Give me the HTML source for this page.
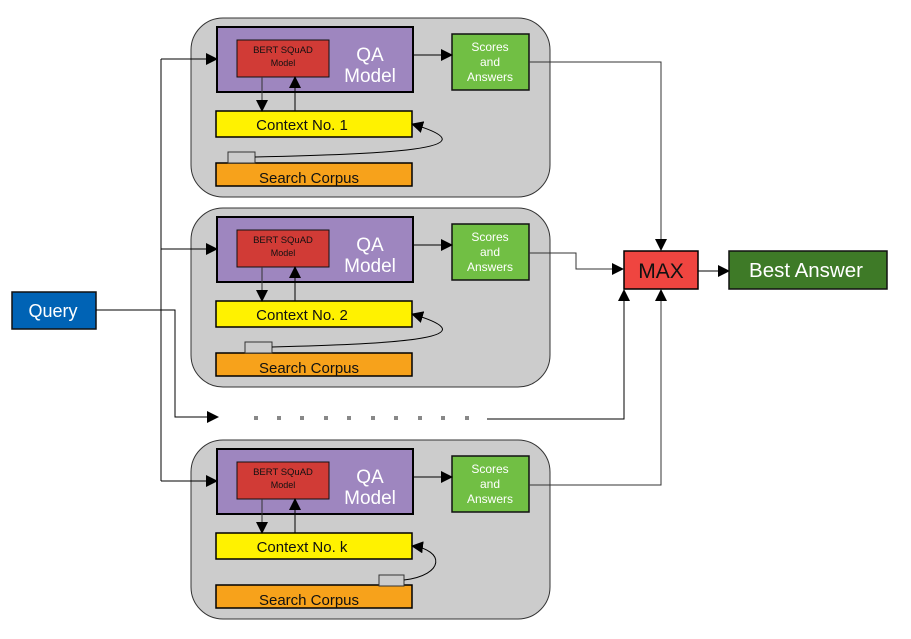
<!DOCTYPE html>
<html><head><meta charset="utf-8"><style>
body{margin:0;background:#fff}
text{font-family:"Liberation Sans",Arial,sans-serif}
</style></head><body>
<svg width="911" height="634" viewBox="0 0 911 634" xmlns="http://www.w3.org/2000/svg">
<defs>
<marker id="a" markerWidth="12" markerHeight="12" refX="11" refY="6" orient="auto" markerUnits="userSpaceOnUse"><path d="M0,0 L12,6 L0,12 z" fill="#000"/></marker>
<g id="grp">
<rect x="191" y="18" width="359" height="179" rx="32" fill="#cccccc" stroke="#333" stroke-width="1"/>
<rect x="217" y="27" width="196" height="65" fill="#9e86bf" stroke="#000" stroke-width="2"/>
<rect x="237" y="40" width="92" height="37" fill="#d13b36" stroke="#111" stroke-width="1"/>
<text x="283" y="53" font-size="9.5" text-anchor="middle" fill="#111">BERT SQuAD</text>
<text x="283" y="66" font-size="9" text-anchor="middle" fill="#111">Model</text>
<text x="370" y="61" font-size="19" text-anchor="middle" fill="#fff">QA</text>
<text x="370" y="82" font-size="19" text-anchor="middle" fill="#fff">Model</text>
<rect x="452" y="34" width="77" height="56" fill="#71bf44" stroke="#111" stroke-width="1.5"/>
<text x="490" y="51" font-size="12" text-anchor="middle" fill="#fff">Scores</text>
<text x="490" y="66" font-size="12" text-anchor="middle" fill="#fff">and</text>
<text x="490" y="81" font-size="12" text-anchor="middle" fill="#fff">Answers</text>
<line x1="413" y1="55" x2="452" y2="55" stroke="#000" stroke-width="1" marker-end="url(#a)"/>
<rect x="216" y="111" width="196" height="26" fill="#fff200" stroke="#000" stroke-width="1.5"/>
<rect x="216" y="163" width="196" height="23" fill="#f7a21b" stroke="#000" stroke-width="1.5"/>
<text x="309" y="183" font-size="15" text-anchor="middle" fill="#111">Search Corpus</text>
<line x1="262" y1="77" x2="262" y2="111" stroke="#333" stroke-width="1" marker-end="url(#a)"/>
<line x1="295" y1="111" x2="295" y2="77" stroke="#000" stroke-width="1" marker-end="url(#a)"/>
</g>
</defs>

<use href="#grp"/>
<rect x="228" y="152" width="27" height="11" fill="#ccc" stroke="#333" stroke-width="1"/>
<path d="M255,157 C380,154 500,150 412,124" fill="none" stroke="#000" stroke-width="1" marker-end="url(#a)"/>

<use href="#grp" y="190"/>
<rect x="245" y="342" width="27" height="11" fill="#ccc" stroke="#333" stroke-width="1"/>
<path d="M272,347 C380,344 500,340 412,314" fill="none" stroke="#000" stroke-width="1" marker-end="url(#a)"/>

<use href="#grp" y="422"/>
<rect x="379" y="575" width="25" height="11" fill="#ccc" stroke="#333" stroke-width="1"/>
<path d="M404,580 C445,575 445,550 412,546" fill="none" stroke="#000" stroke-width="1" marker-end="url(#a)"/>

<text x="302" y="130" font-size="15" text-anchor="middle" fill="#111">Context No. 1</text>
<text x="302" y="320" font-size="15" text-anchor="middle" fill="#111">Context No. 2</text>
<text x="302" y="552" font-size="15" text-anchor="middle" fill="#111">Context No. k</text>

<rect x="12" y="292" width="84" height="37" fill="#0063b5" stroke="#111" stroke-width="1.5"/>
<text x="53" y="317" font-size="18" text-anchor="middle" fill="#fff">Query</text>
<polyline points="96,310 175,310 175,417 218,417" fill="none" stroke="#000" stroke-width="1" marker-end="url(#a)"/>
<line x1="161" y1="59" x2="161" y2="481" stroke="#000" stroke-width="1"/>
<line x1="161" y1="59" x2="217" y2="59" stroke="#000" marker-end="url(#a)"/>
<line x1="161" y1="249" x2="217" y2="249" stroke="#000" marker-end="url(#a)"/>
<line x1="161" y1="481" x2="217" y2="481" stroke="#000" marker-end="url(#a)"/>

<g fill="#888">
<rect x="254" y="416" width="4" height="4"/><rect x="277" y="416" width="4" height="4"/><rect x="300" y="416" width="4" height="4"/><rect x="324" y="416" width="4" height="4"/><rect x="347" y="416" width="4" height="4"/><rect x="371" y="416" width="4" height="4"/><rect x="394" y="416" width="4" height="4"/><rect x="418" y="416" width="4" height="4"/><rect x="441" y="416" width="4" height="4"/><rect x="465" y="416" width="4" height="4"/>
</g>
<polyline points="487,419 624,419 624,290" fill="none" stroke="#000" stroke-width="1" marker-end="url(#a)"/>

<polyline points="529,62 661,62 661,250" fill="none" stroke="#333" stroke-width="1" marker-end="url(#a)"/>
<polyline points="529,253 576,253 576,269 623,269" fill="none" stroke="#333" stroke-width="1" marker-end="url(#a)"/>
<polyline points="529,485 661,485 661,290" fill="none" stroke="#333" stroke-width="1" marker-end="url(#a)"/>

<rect x="624" y="251" width="74" height="38" fill="#ef4540" stroke="#000" stroke-width="1.5"/>
<text x="661" y="278" font-size="21" text-anchor="middle" fill="#111">MAX</text>
<line x1="698" y1="271" x2="729" y2="271" stroke="#000" marker-end="url(#a)"/>
<rect x="729" y="251" width="158" height="38" fill="#3e7a27" stroke="#111" stroke-width="1.5"/>
<text x="806" y="277" font-size="20.5" text-anchor="middle" fill="#fff">Best Answer</text>
</svg>
</body></html>
